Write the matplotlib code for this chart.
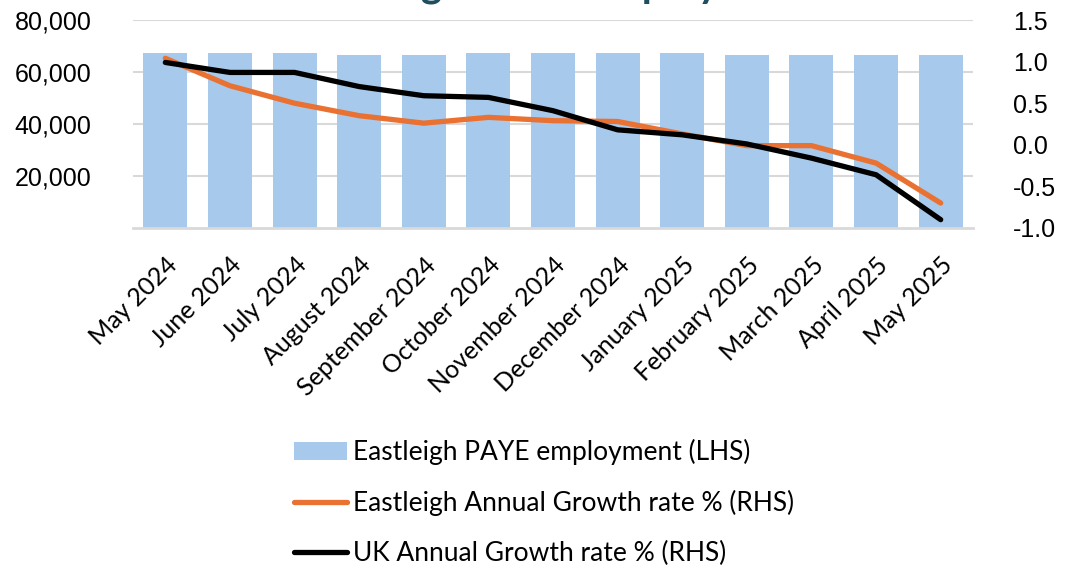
import matplotlib
matplotlib.use('Agg')
import matplotlib.pyplot as plt
from matplotlib.ticker import FuncFormatter
import numpy as np

# data
months = ['May 2024', 'June 2024', 'July 2024', 'August 2024', 'September 2024',
          'October 2024', 'November 2024', 'December 2024', 'January 2025',
          'February 2025', 'March 2025', 'April 2025', 'May 2025']
paye = [67200, 67200, 67200, 66400, 66400, 67200, 67200,
        67200, 67200, 66400, 66400, 66400, 66400]
eastleigh_growth = [1.04, 0.71, 0.50, 0.35, 0.26, 0.33, 0.29,
                    0.28, 0.13, -0.01, -0.01, -0.22, -0.70]
uk_growth = [0.99, 0.87, 0.87, 0.70, 0.59, 0.57, 0.41,
             0.18, 0.12, 0.01, -0.16, -0.36, -0.90]

num_font = 'Liberation Sans'
txt_font = 'Lato'

fig = plt.figure(figsize=(10.71, 5.72), dpi=100)
ax = fig.add_axes([0.1242, 0.6014, 0.7843, 0.3636])
ax2 = ax.twinx()

x = np.arange(len(months))
bars = ax.bar(x, paye, width=0.68, color='#A7C9EB', zorder=2,
              label='Eastleigh PAYE employment (LHS)')
l1, = ax2.plot(x, eastleigh_growth, color='#E97132', linewidth=3.8,
               solid_capstyle='round', label='Eastleigh Annual Growth rate % (RHS)')
l2, = ax2.plot(x, uk_growth, color='black', linewidth=3.8,
               solid_capstyle='round', label='UK Annual Growth rate % (RHS)')

ax.set_xlim(-0.5, len(months) - 0.5)
ax.set_ylim(0, 80000)
ax.set_yticks([20000, 40000, 60000, 80000])
ax.yaxis.set_major_formatter(FuncFormatter(lambda v, p: f'{v:,.0f}'))
ax2.set_ylim(-1.0, 1.5)
ax2.set_yticks([-1.0, -0.5, 0.0, 0.5, 1.0, 1.5])
ax2.yaxis.set_major_formatter(FuncFormatter(lambda v, p: f'{v:.1f}'))

ax.grid(axis='y', color='#D9D9D9', linewidth=1.5, zorder=0)
ax.set_axisbelow(True)
for s in ['top', 'left', 'right']:
    ax.spines[s].set_visible(False)
    ax2.spines[s].set_visible(False)
ax2.spines['bottom'].set_visible(False)
ax.spines['bottom'].set_color('#D9D9D9')
ax.spines['bottom'].set_linewidth(2)

ax.tick_params(axis='y', length=0, pad=30, labelsize=18)
ax2.tick_params(axis='y', length=0, pad=29, labelsize=18)
for lab in ax.get_yticklabels() + ax2.get_yticklabels():
    lab.set_fontfamily(num_font)

ax.set_xticks(x)
ax.set_xticklabels(months, rotation=45, ha='right', rotation_mode='anchor',
                   fontsize=18, family=txt_font)
ax.tick_params(axis='x', length=0, pad=18)

fig.legend(handles=[bars, l1, l2], loc='upper left',
           bbox_to_anchor=(294 / 1071, 1 - 439 / 572), frameon=False,
           prop={'family': txt_font, 'size': 19}, handlelength=2.0,
           handletextpad=0.25, labelspacing=0.95, borderpad=0, borderaxespad=0)

# title sits mostly above the canvas, as in the reference
fig.text(0.521, 1 + 4 / 572, 'Eastleigh PAYE employment', ha='center',
         va='baseline', fontsize=29, fontweight='bold', color='#1F4E5F',
         family=txt_font)

fig.savefig('out.png', dpi=100)
